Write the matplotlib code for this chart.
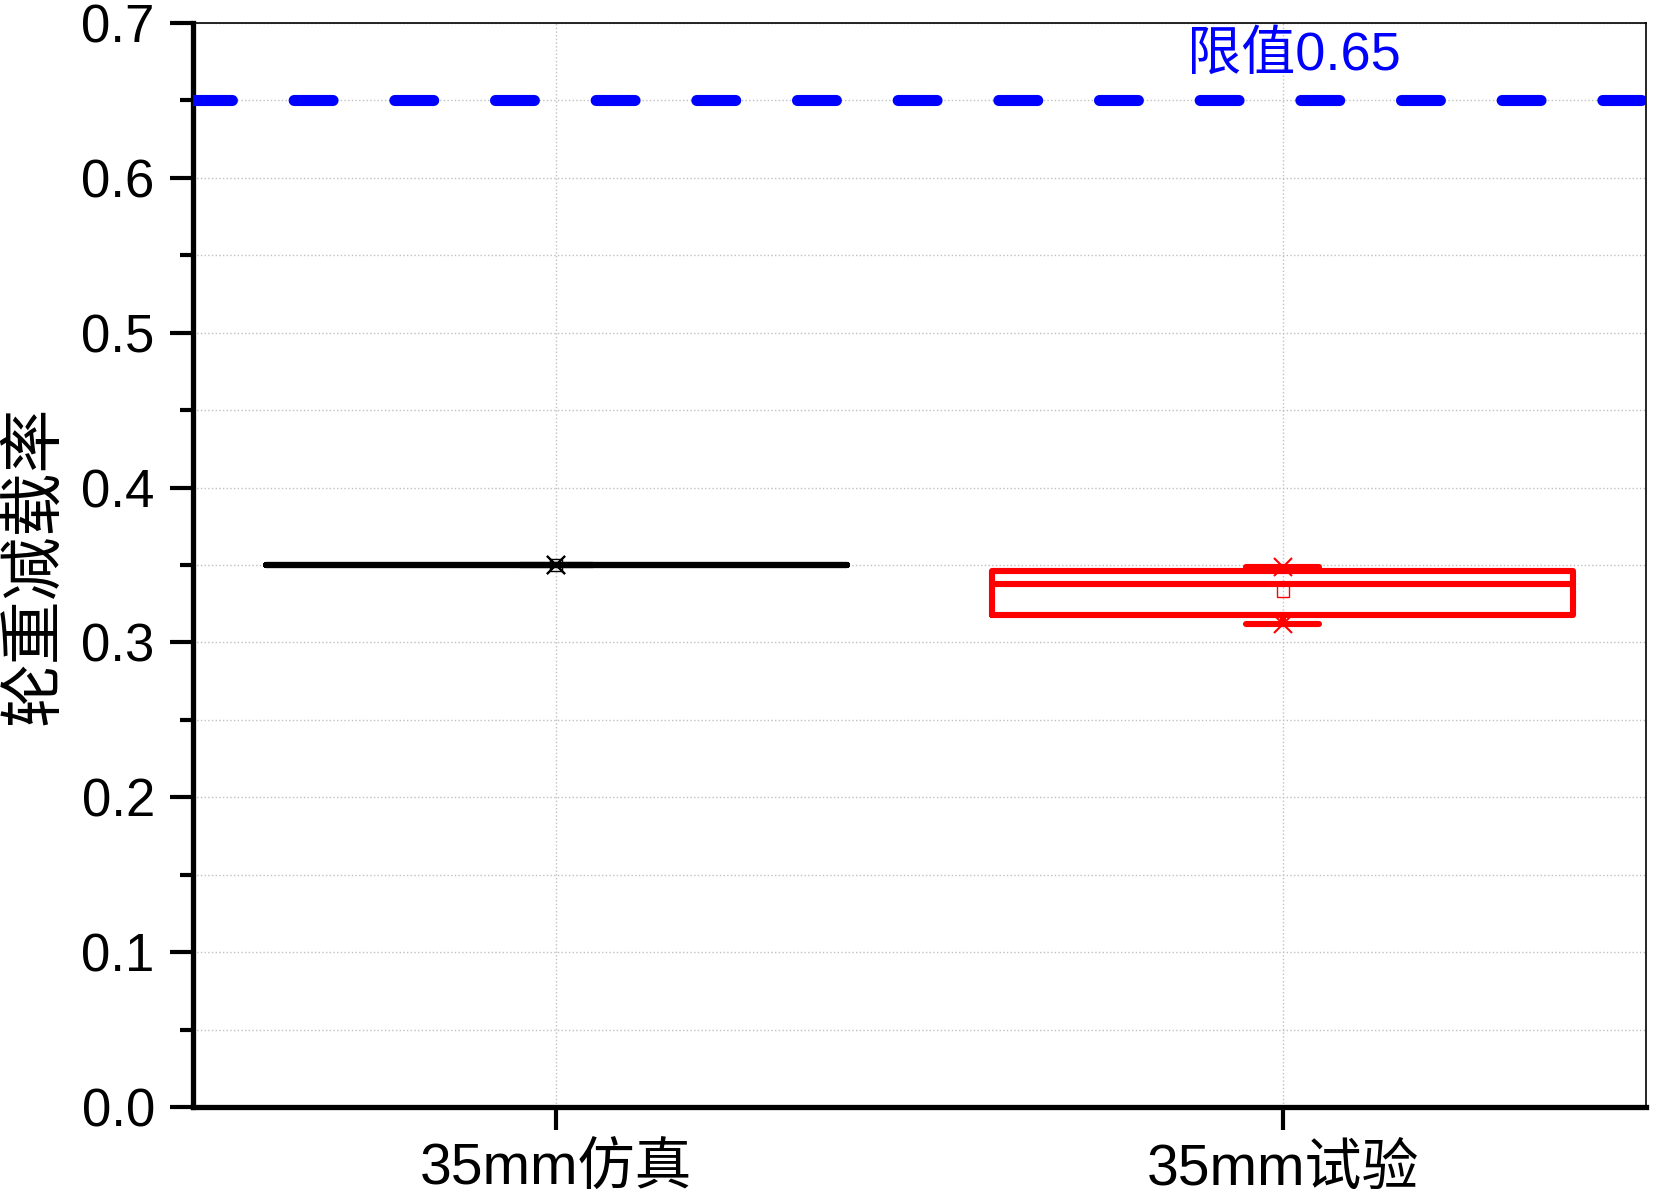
import matplotlib.pyplot as plt
from matplotlib.ticker import MultipleLocator, FormatStrFormatter

# box statistics
categories = ['35mm仿真', '35mm试验']
q1 = [0.350, 0.318]
medians = [0.350, 0.338]
q3 = [0.350, 0.346]
whisker_lo = [0.350, 0.312]
whisker_hi = [0.350, 0.349]
means = [0.350, 0.3335]
box_colors = ['black', 'red']
limit_value = 0.65
limit_label = '限值0.65'


def main():
    plt.rcParams['font.family'] = ['Liberation Sans', 'Noto Sans CJK SC']

    fig = plt.figure(figsize=(16.54, 11.96), dpi=100)
    ax = fig.add_axes([0.1167, 0.0744, 0.8785, 0.9064])

    positions = list(range(1, len(categories) + 1))
    for i, pos in enumerate(positions):
        c = box_colors[i]
        stats = [dict(med=medians[i], q1=q1[i], q3=q3[i],
                      whislo=whisker_lo[i], whishi=whisker_hi[i],
                      mean=means[i], fliers=[])]
        ax.bxp(stats, positions=[pos], widths=0.8, capwidths=0.1,
               showmeans=True, showfliers=False,
               boxprops=dict(color=c, linewidth=4.4, solid_joinstyle='round',
                             solid_capstyle='round'),
               medianprops=dict(color=c, linewidth=4.4, solid_capstyle='round'),
               whiskerprops=dict(color=c, linewidth=4.4),
               capprops=dict(color=c, linewidth=4.4, solid_capstyle='round'),
               meanprops=dict(marker='s', markerfacecolor='none',
                              markeredgecolor=c, markersize=8,
                              markeredgewidth=1))
        # min / max markers
        ax.plot([pos, pos], [whisker_lo[i], whisker_hi[i]], ls='none',
                marker='x', color=c, markersize=13, markeredgewidth=1.5)

    # limit line
    ax.axhline(limit_value, color='blue', lw=8, ls=(0, (3.5, 5.56)),
               dash_capstyle='round', zorder=3)
    ax.text(1.868, 0.679, limit_label, color='blue', fontsize=39,
            va='center', ha='left')

    ax.set_xlim(0.5, 2.5)
    ax.set_ylim(0, 0.7)
    ax.set_xticks(positions)
    ax.set_xticklabels(categories)
    ax.yaxis.set_major_locator(MultipleLocator(0.1))
    ax.yaxis.set_minor_locator(MultipleLocator(0.05))
    ax.yaxis.set_major_formatter(FormatStrFormatter('%.1f'))

    ax.set_axisbelow(True)
    ax.grid(which='both', ls=':', color='#c0c0c0', lw=1)

    ax.tick_params(axis='both', which='major', direction='out', length=16.5,
                   width=3, pad=11, labelsize=38)
    ax.tick_params(axis='x', which='major', labelsize=41, pad=9)
    ax.tick_params(axis='y', which='minor', direction='out', length=9.5,
                   width=3)
    ax.tick_params(top=False, right=False, which='both')

    for side in ['left', 'bottom']:
        ax.spines[side].set_linewidth(3.8)
    for side in ['top', 'right']:
        ax.spines[side].set_linewidth(1.2)

    ax.set_ylabel('轮重减载率', fontsize=46)
    ax.yaxis.set_label_coords(-0.088, 0.5)

    fig.savefig('out.png', dpi=100)


if __name__ == "__main__":
    main()
